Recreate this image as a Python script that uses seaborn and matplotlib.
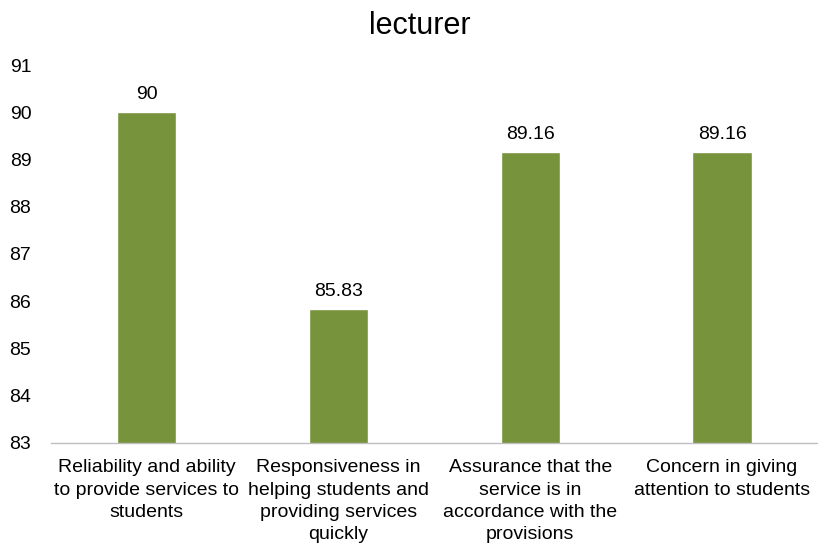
import matplotlib
matplotlib.use("Agg")
import matplotlib.pyplot as plt
import seaborn as sns
import pandas as pd

categories = [
    "Reliability and ability\nto provide services to\nstudents",
    "Responsiveness in\nhelping students and\nproviding services\nquickly",
    "Assurance that the\nservice is in\naccordance with the\nprovisions",
    "Concern in giving\nattention to students",
]
scores = [90, 85.83, 89.16, 89.16]
score_labels = ["90", "85.83", "89.16", "89.16"]

sns.set_style("white")
plt.rcParams['font.family'] = ['Liberation Sans', 'DejaVu Sans']
plt.rcParams['text.color'] = "#000000"

df = pd.DataFrame({"category": categories, "score": scores})

fig = plt.figure(figsize=(8.18, 5.48), dpi=100)
ax = fig.add_axes([0.062, 0.192, 0.938, 0.689])

sns.barplot(data=df, x="category", y="score", color="#77933C", saturation=1,
            width=0.31, ax=ax, bottom=0)

ax.set_ylim(83, 91)
ax.set_yticks(range(83, 92))
ax.set_xlim(-0.5, 3.5)
ax.set_xlabel("")
ax.set_ylabel("")
ax.tick_params(axis="both", labelsize=14, colors="#000000", length=0)
ax.tick_params(axis="y", pad=14)
ax.tick_params(axis="x", pad=12)
for t in ax.get_xticklabels():
    t.set_linespacing(1.4)

for bar, lab in zip(ax.patches, score_labels):
    ax.text(bar.get_x() + bar.get_width() / 2, bar.get_height() + 0.2, lab,
            ha="center", va="bottom", fontsize=14, color="#000000")

for s in ["top", "right", "left"]:
    ax.spines[s].set_visible(False)
ax.spines["bottom"].set_color("#BFBFBF")
ax.spines["bottom"].set_linewidth(1)

fig.suptitle("lecturer", fontsize=22, x=0.513, y=0.98, color="#000000")

fig.savefig("out.png", dpi=100)
